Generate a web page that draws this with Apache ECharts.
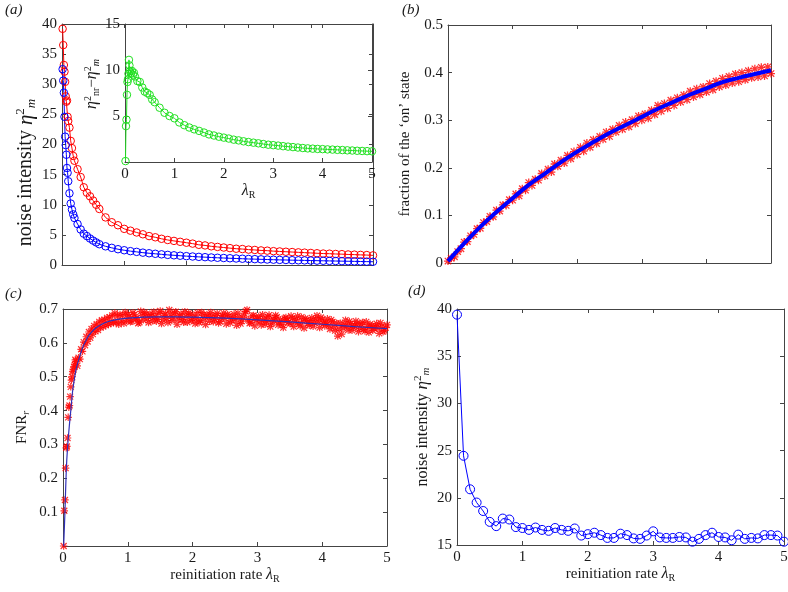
<!DOCTYPE html>
<html>
<head>
<meta charset="utf-8">
<title>Noise intensity vs reinitiation rate</title>
<script src="https://cdn.jsdelivr.net/npm/echarts@6/dist/echarts.min.js"></script>
<style>
body { margin: 0; background: #fff; }
#chart { width: 788px; height: 592px; }
</style>
</head>
<body>
<div id="chart"></div>
<script>
// (a) main panel + inset: lambda_R, noise of the two models, and their difference
var lamA = [0.01,0.02,0.03,0.04,0.05,0.06,0.07,0.08,0.09,0.1,0.12,0.14,0.16,0.18,0.2,0.25,0.3,0.35,0.4,0.45,0.5,0.55,
	0.6,0.7,0.8,0.9,1.0,1.1,1.2,1.3,1.4,1.5,1.6,1.7,1.8,1.9,2.0,2.1,2.2,2.3,2.4,2.5,2.6,2.7,2.8,2.9,3.0,
	3.1,3.2,3.3,3.4,3.5,3.6,3.7,3.8,3.9,4.0,4.1,4.2,4.3,4.4,4.5,4.6,4.7,4.8,4.9,5.0];
var redA = [39.2,36.5,33.2,32.1,30.4,28.0,27.1,27.3,24.6,23.9,22.8,20.6,19.4,18.1,17.3,15.9,14.6,12.9,12.0,11.4,10.7,10.0,
	9.3,7.9,7.1,6.6,6.0,5.7,5.4,5.1,4.8,4.6,4.35,4.15,4.0,3.85,3.7,3.55,3.35,3.25,3.1,3.0,2.9,2.8,2.7,2.65,2.55,
	2.5,2.42,2.38,2.3,2.25,2.2,2.15,2.1,2.05,2.0,1.95,1.9,1.88,1.83,1.8,1.75,1.72,1.68,1.65,1.6];
var blueA = [32.5,30.6,28.6,24.6,21.3,19.9,18.3,16.1,15.3,13.9,11.9,10.2,9.2,8.4,7.8,6.8,5.9,5.2,4.8,4.4,4.05,3.75,
	3.45,3.1,2.85,2.62,2.45,2.3,2.18,2.05,1.95,1.86,1.77,1.68,1.61,1.54,1.47,1.41,1.35,1.3,1.25,1.2,1.16,1.12,1.08,1.04,1.0,
	0.97,0.94,0.91,0.88,0.85,0.83,0.8,0.78,0.76,0.74,0.72,0.7,0.68,0.66,0.64,0.62,0.6,0.58,0.56,0.54];
var greenA = [0.1,3.9,4.6,7.3,8.7,9.0,9.6,11.1,10.5,9.9,9.6,9.9,9.5,9.7,9.3,8.8,8.7,8.1,7.65,7.5,7.3,6.8,
	6.5,5.9,5.35,5.0,4.75,4.3,4.0,3.75,3.55,3.38,3.2,3.0,2.88,2.75,2.65,2.55,2.43,2.35,2.25,2.17,2.1,2.03,1.95,1.88,1.83,
	1.78,1.72,1.67,1.62,1.57,1.52,1.48,1.45,1.42,1.4,1.37,1.35,1.32,1.3,1.27,1.25,1.22,1.2,1.18,1.16];

// (b) fraction of the 'on' state
var lamBline = [0,0.25,0.5,0.75,1.0,1.25,1.5,1.75,2.0,2.25,2.5,2.75,3.0,3.25,3.5,3.75,4.0,4.25,4.5,4.75,5.0];
var fracBline = [0.004,0.041,0.076,0.107,0.136,0.164,0.188,0.212,0.234,0.254,0.273,0.290,0.307,0.324,0.339,0.354,0.367,0.380,0.389,0.397,0.405];
var lamBpts = [0,0.05,0.1,0.15,0.2,0.25,0.3,0.35,0.4,0.45,0.5,0.55,0.6,0.65,0.7,0.75,0.8,0.85,0.9,0.95,
	1,1.05,1.1,1.15,1.2,1.25,1.3,1.35,1.4,1.45,1.5,1.55,1.6,1.65,1.7,1.75,1.8,1.85,1.9,1.95,
	2,2.05,2.1,2.15,2.2,2.25,2.3,2.35,2.4,2.45,2.5,2.55,2.6,2.65,2.7,2.75,2.8,2.85,2.9,2.95,
	3,3.05,3.1,3.15,3.2,3.25,3.3,3.35,3.4,3.45,3.5,3.55,3.6,3.65,3.7,3.75,3.8,3.85,3.9,3.95,
	4,4.05,4.1,4.15,4.2,4.25,4.3,4.35,4.4,4.45,4.5,4.55,4.6,4.65,4.7,4.75,4.8,4.85,4.9,4.95,5];
var fracBpts = [0.004,0.010,0.013,0.024,0.030,0.044,0.045,0.057,0.060,0.072,0.073,0.085,0.087,0.098,0.097,0.111,0.109,0.122,0.121,0.133,
	0.132,0.145,0.141,0.156,0.153,0.169,0.163,0.176,0.174,0.188,0.183,0.197,0.191,0.208,0.203,0.216,0.210,0.226,0.219,0.234,
	0.228,0.243,0.235,0.252,0.243,0.259,0.251,0.266,0.260,0.275,0.266,0.281,0.275,0.289,0.281,0.296,0.286,0.301,0.293,0.309,
	0.300,0.313,0.304,0.321,0.312,0.331,0.319,0.335,0.325,0.342,0.331,0.347,0.338,0.353,0.343,0.361,0.349,0.366,0.354,0.370,
	0.359,0.377,0.364,0.382,0.370,0.388,0.374,0.392,0.378,0.397,0.381,0.400,0.385,0.404,0.389,0.408,0.391,0.411,0.393,0.412,0.398];

// (c) FNR_r
var lamC = [0.01,0.02,0.03,0.04,0.05,0.06,0.07,0.08,0.09,0.1,0.11,0.12,0.13,0.14,0.15,0.16,0.17,0.18,0.19,0.2,
	0.22,0.24,0.26,0.28,0.3,0.32,0.34,0.36,0.38,0.4,0.42,0.44,0.46,0.48,0.5,0.52,0.54,0.56,0.58,0.6,
	0.62,0.64,0.66,0.68,0.7,0.72,0.74,0.76,0.78,0.8,0.82,0.84,0.86,0.88,0.9,0.92,0.94,0.96,0.98,1.0,
	1.04,1.08,1.12,1.16,1.2,1.24,1.28,1.32,1.36,1.4,1.44,1.48,1.52,1.56,1.6,1.64,1.68,1.72,1.76,1.8,
	1.84,1.88,1.92,1.96,2.0,2.04,2.08,2.12,2.16,2.2,2.24,2.28,2.32,2.36,2.4,2.44,2.48,2.52,2.56,2.6,
	2.64,2.68,2.72,2.76,2.8,2.84,2.88,2.92,2.96,3.0,3.04,3.08,3.12,3.16,3.2,3.24,3.28,3.32,3.36,3.4,
	3.44,3.48,3.52,3.56,3.6,3.64,3.68,3.72,3.76,3.8,3.84,3.88,3.92,3.96,4.0,4.04,4.08,4.12,4.16,4.2,
	4.24,4.28,4.32,4.36,4.4,4.44,4.48,4.52,4.56,4.6,4.64,4.68,4.72,4.76,4.8,4.84,4.88,4.92,4.96,5.0];
var fnrC = [0.0,0.104,0.136,0.23,0.29,0.294,0.319,0.38,0.41,0.415,0.441,0.47,0.49,0.50,0.515,0.52,0.53,0.535,0.55,0.545,
	0.532,0.556,0.552,0.581,0.575,0.602,0.593,0.618,0.604,0.632,0.615,0.641,0.626,0.650,0.634,0.655,0.638,0.662,0.645,0.667,
	0.648,0.668,0.652,0.674,0.655,0.676,0.658,0.681,0.660,0.688,0.661,0.679,0.655,0.684,0.664,0.681,0.658,0.690,0.666,0.684,
	0.662,0.689,0.671,0.658,0.693,0.668,0.684,0.660,0.679,0.691,0.664,0.687,0.657,0.682,0.672,0.697,0.666,0.688,0.655,0.680,
	0.669,0.692,0.661,0.684,0.670,0.657,0.689,0.665,0.682,0.654,0.677,0.690,0.662,0.681,0.659,0.675,0.688,0.656,0.679,0.667,
	0.685,0.652,0.676,0.664,0.686,0.697,0.658,0.679,0.650,0.673,0.662,0.683,0.655,0.677,0.648,0.671,0.681,0.653,0.668,0.645,
	0.675,0.660,0.679,0.648,0.670,0.656,0.676,0.644,0.667,0.652,0.674,0.659,0.680,0.645,0.668,0.650,0.671,0.641,0.662,0.636,
	0.620,0.658,0.644,0.667,0.638,0.656,0.646,0.664,0.633,0.655,0.640,0.662,0.631,0.650,0.642,0.657,0.628,0.649,0.636,0.653];
var lamC2 = [1.02,1.06,1.1,1.14,1.18,1.22,1.26,1.3,1.34,1.38,1.42,1.46,1.5,1.54,1.58,1.62,1.66,1.7,1.74,1.78,1.82,1.86,1.9,1.94,1.98,
	2.02,2.06,2.1,2.14,2.18,2.22,2.26,2.3,2.34,2.38,2.42,2.46,2.5,2.54,2.58,2.62,2.66,2.7,2.74,2.78,2.82,2.86,2.9,2.94,2.98,
	3.02,3.06,3.1,3.14,3.18,3.22,3.26,3.3,3.34,3.38,3.42,3.46,3.5,3.54,3.58,3.62,3.66,3.7,3.74,3.78,3.82,3.86,3.9,3.94,3.98,
	4.02,4.06,4.1,4.14,4.18,4.22,4.26,4.3,4.34,4.38,4.42,4.46,4.5,4.54,4.58,4.62,4.66,4.7,4.74,4.78,4.82,4.86,4.9,4.94,4.98];
var fnrC2 = [0.678,0.664,0.683,0.674,0.661,0.681,0.690,0.672,0.685,0.665,0.677,0.670,0.694,0.669,0.686,0.660,0.683,0.674,0.692,0.670,0.685,0.661,0.678,0.688,0.666,
	0.682,0.673,0.660,0.690,0.671,0.684,0.664,0.679,0.670,0.687,0.663,0.680,0.672,0.684,0.659,0.676,0.668,0.688,0.657,0.674,0.693,0.669,0.661,0.681,0.666,
	0.678,0.653,0.671,0.663,0.682,0.658,0.665,0.676,0.661,0.654,0.672,0.666,0.657,0.673,0.662,0.679,0.650,0.664,0.672,0.658,0.666,0.649,0.671,0.662,0.675,
	0.657,0.661,0.652,0.668,0.647,0.658,0.641,0.626,0.654,0.648,0.663,0.637,0.651,0.657,0.643,0.660,0.635,0.648,0.655,0.637,0.650,0.644,0.659,0.633,0.645];
var lamCline = [0.01,0.03,0.05,0.07,0.1,0.12,0.15,0.2,0.25,0.3,0.35,0.4,0.5,0.6,0.7,0.8,1.0,1.25,1.5,1.75,2.0,2.5,3.0,3.5,4.0,4.5,5.0];
var fnrCline = [0.0,0.1,0.22,0.29,0.36,0.40,0.46,0.52,0.555,0.585,0.605,0.622,0.643,0.655,0.663,0.668,0.673,0.676,0.677,0.677,0.676,0.673,0.668,0.662,0.655,0.648,0.642];

// (d) noise intensity
var lamD = [0,0.1,0.2,0.3,0.4,0.5,0.6,0.7,0.8,0.9,1.0,1.1,1.2,1.3,1.4,1.5,1.6,1.7,1.8,1.9,2.0,2.1,2.2,2.3,2.4,2.5,
	2.6,2.7,2.8,2.9,3.0,3.1,3.2,3.3,3.4,3.5,3.6,3.7,3.8,3.9,4.0,4.1,4.2,4.3,4.4,4.5,4.6,4.7,4.8,4.9,5.0];
var noiseD = [39.4,24.45,20.9,19.5,18.6,17.45,17.0,17.8,17.7,16.9,16.8,16.6,16.85,16.6,16.5,16.8,16.6,16.5,16.75,16.0,16.15,
	16.3,16.05,15.75,15.75,16.2,16.05,15.7,15.65,16.0,16.45,15.8,15.75,15.75,15.85,15.8,15.35,15.65,16.05,16.3,15.85,
	15.8,15.5,16.1,15.65,15.75,15.7,16.05,16.05,16.0,15.35];

var serif = 'Liberation Serif';
var ink = '#1a1a1a';
var axisColor = '#444';
var asterisk = 'path://M0,4.2L10,4.2L10,5.8L0,5.8ZM4.2,0L5.8,0L5.8,10L4.2,10Z' +
	'M0.43,1.57L1.57,0.43L9.57,8.43L8.43,9.57ZM8.43,0.43L9.57,1.57L1.57,9.57L0.43,8.43Z';

function richSet(size)
{
	var small = Math.round(size * 0.66);
	var lh = Math.round(size * 1.2);
	return {
		t: {fontFamily: serif, fontSize: size, color: ink, lineHeight: lh},
		i: {fontFamily: serif, fontSize: size + 1, fontStyle: 'italic', color: ink, lineHeight: lh},
		sup: {fontFamily: serif, fontSize: small, color: ink, lineHeight: small, verticalAlign: 'top'},
		sub: {fontFamily: serif, fontSize: small, fontStyle: 'italic', color: ink, lineHeight: small, verticalAlign: 'bottom'},
		subr: {fontFamily: serif, fontSize: small, color: ink, lineHeight: small, verticalAlign: 'bottom'}
	};
}

function pairs(xs, ys)
{
	var out = [];
	for (var i = 0; i < xs.length; ++i)
		out.push([xs[i], ys[i]]);
	return out;
}

function hideZero(v)
{
	return v === 0 ? '' : v;
}

function makeAxis(dim, grid, o, mirror)
{
	var ax = {
		gridIndex: grid,
		type: 'value',
		min: o.min,
		max: o.max,
		interval: o.interval,
		position: mirror ? (dim === 'x' ? 'top' : 'right') : (dim === 'x' ? 'bottom' : 'left'),
		axisLine: {show: true, onZero: false, lineStyle: {color: axisColor, width: 1}},
		axisTick: {show: true, inside: true, length: 4, lineStyle: {color: axisColor}},
		splitLine: {show: false},
		axisLabel: {show: !mirror && o.labels !== false, fontFamily: serif, fontSize: 15, color: ink,
			margin: 5, formatter: o.formatter},
		silent: true
	};
	if (!mirror && o.name) {
		var size = o.nameSize || 15;
		ax.name = o.name;
		ax.nameLocation = 'middle';
		ax.nameGap = o.nameGap;
		ax.nameTextStyle = {fontFamily: serif, fontSize: size, color: ink, rich: richSet(size),
			padding: o.namePad || 0};
	}
	return ax;
}

var xSpec = [
	{min: 0, max: 5, interval: 1, labels: false},
	{min: 0, max: 5, interval: 1, name: '{i|λ}{subr|R}', nameGap: 20},
	{min: 0, max: 5, interval: 1, labels: false},
	{min: 0, max: 5, interval: 1, name: '{t|reinitiation rate }{i|λ}{subr|R}', nameGap: 14},
	{min: 0, max: 5, interval: 1, name: '{t|reinitiation rate }{i|λ}{subr|R}', nameGap: 14}
];
var ySpec = [
	{min: 0, max: 40, interval: 5, name: '{t|noise intensity }{i|η}{sup|2}{sub|m}', nameGap: 22,
		nameSize: 20, namePad: [0, 56, 0, 0]},
	{min: 0, max: 15, interval: 5, formatter: hideZero, name: '{i|η}{sup|2}{subr|nr}{t|−}{i|η}{sup|2}{sub|m}',
		nameGap: 16, namePad: [0, 0, 0, 18]},
	{min: 0, max: 0.5, interval: 0.1, name: '{t|fraction of the ‘on’ state}', nameGap: 34},
	{min: 0, max: 0.7, interval: 0.1, formatter: hideZero, name: '{t|FNR}{sub|r}', nameGap: 32},
	{min: 15, max: 40, interval: 5, name: '{t|noise intensity }{i|η}{sup|2}{sub|m}', nameGap: 25, nameSize: 16}
];

var xAxes = [], yAxes = [];
for (var g = 0; g < 5; ++g) {
	xAxes.push(makeAxis('x', g, xSpec[g], false));
	yAxes.push(makeAxis('y', g, ySpec[g], false));
}
for (var g = 0; g < 5; ++g) {
	xAxes.push(makeAxis('x', g, xSpec[g], true));
	yAxes.push(makeAxis('y', g, ySpec[g], true));
}

function label(text, left, top)
{
	return {text: text, left: left, top: top, padding: 0,
		textStyle: {fontFamily: serif, fontSize: 15, fontStyle: 'italic', fontWeight: 'normal', color: ink}};
}

function circleLine(name, xi, data, color, size)
{
	return {
		name: name, type: 'line', xAxisIndex: xi, yAxisIndex: xi, data: data,
		symbol: 'circle', symbolSize: size, showSymbol: true,
		itemStyle: {color: 'rgba(0,0,0,0)', borderColor: color, borderWidth: 1},
		lineStyle: {color: color, width: 1},
		emphasis: {disabled: true}, silent: true
	};
}

function stars(name, xi, data, size)
{
	return {
		name: name, type: 'scatter', xAxisIndex: xi, yAxisIndex: xi, data: data,
		symbol: asterisk, symbolSize: size,
		itemStyle: {color: '#ff0000'}, emphasis: {disabled: true}, silent: true
	};
}

var chart = echarts.init(document.getElementById('chart'));

chart.setOption({
	animation: false,
	backgroundColor: '#fff',
	title: [label('(a)', 5, 3), label('(b)', 402, 3), label('(c)', 5, 287), label('(d)', 408, 284)],
	grid: [
		{left: 62, top: 24, width: 311, height: 241, outerBoundsMode: 'none'},
		{left: 125, top: 24, width: 247, height: 138, outerBoundsMode: 'none', show: true, backgroundColor: '#fff', borderWidth: 0},
		{left: 448, top: 25, width: 323, height: 238, outerBoundsMode: 'none'},
		{left: 63, top: 309, width: 324, height: 237, outerBoundsMode: 'none'},
		{left: 457, top: 309, width: 327, height: 236, outerBoundsMode: 'none'}
	],
	xAxis: xAxes,
	yAxis: yAxes,
	series: [
		circleLine('red', 0, pairs(lamA, redA), '#ff0000', 7.5),
		circleLine('blue', 0, pairs(lamA, blueA), '#0000ff', 7.5),
		circleLine('difference', 1, pairs(lamA, greenA), '#22e022', 7.5),
		stars('on fraction sim', 2, pairs(lamBpts, fracBpts), 8),
		{
			name: 'on fraction', type: 'line', xAxisIndex: 2, yAxisIndex: 2,
			data: pairs(lamBline, fracBline), smooth: true, showSymbol: false,
			lineStyle: {color: '#0000ff', width: 4}, emphasis: {disabled: true}, silent: true
		},
		stars('FNR sim', 3, pairs(lamC, fnrC), 7.5),
		stars('FNR sim 2', 3, pairs(lamC2, fnrC2), 7.5),
		{
			name: 'FNR', type: 'line', xAxisIndex: 3, yAxisIndex: 3,
			data: pairs(lamCline, fnrCline), smooth: 0.3, showSymbol: false,
			lineStyle: {color: '#3030b8', width: 1.2}, emphasis: {disabled: true}, silent: true
		},
		circleLine('noise', 4, pairs(lamD, noiseD), '#0000ff', 9)
	]
});
</script>
</body>
</html>
